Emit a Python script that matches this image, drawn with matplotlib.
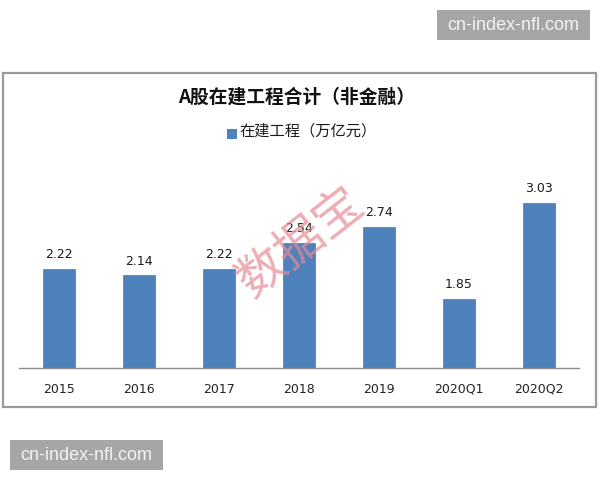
import matplotlib
matplotlib.use('Agg')
import matplotlib.pyplot as plt
from matplotlib.patches import Rectangle

plt.rcParams['font.family'] = ['Noto Sans CJK SC', 'DejaVu Sans']

W, H = 600, 480

categories = ['2015', '2016', '2017', '2018', '2019', '2020Q1', '2020Q2']
values = [2.22, 2.14, 2.22, 2.54, 2.74, 1.85, 3.03]
title = 'A股在建工程合计（非金融）'
legend_label = '在建工程（万亿元）'
site = 'cn-index-nfl.com'
stamp = '数据宝'

bar_color = '#4f81bd'


def fx(px):
    return px / W


def fy(py):
    return 1 - py / H


fig = plt.figure(figsize=(W / 100, H / 100), dpi=100, facecolor='white')

# chart frame, kept under the axes
fig.add_artist(Rectangle((fx(2.5), fy(407)), fx(593.5), 334 / H, transform=fig.transFigure,
                         fc='white', ec='#9a9a9a', lw=1.6, zorder=-1))

# axis runs from x=19 to x=579, baseline at y=367.5
ax = fig.add_axes([fx(19), fy(367.5), 560 / W, 167.5 / H])
ax.patch.set_alpha(0)
bars = ax.bar(categories, values, width=0.4, color=bar_color, edgecolor='#4a7ab3', lw=0.5, zorder=2)
ax.set_xlim(-0.5, 6.5)
ax.set_ylim(1, 1 + 167.5 / 81.0)
ax.set_yticks([])
for side in ['top', 'left', 'right']:
    ax.spines[side].set_visible(False)
ax.spines['bottom'].set_color('#8c8c8c')
ax.spines['bottom'].set_linewidth(1.0)
ax.tick_params(axis='x', length=0, pad=11, labelsize=9, labelcolor='#222222')
for lab in ax.get_xticklabels():
    lab.set_family(['DejaVu Sans'])

for b, v in zip(bars, values):
    ax.annotate(f'{v:.2f}', (b.get_x() + b.get_width() / 2, v), xytext=(0, 5.5),
                textcoords='offset points', ha='center', va='bottom', fontsize=9,
                color='#1a1a1a', family=['DejaVu Sans'], zorder=4)

fig.text(fx(297), fy(97), title, ha='center', va='center', fontsize=13.5, fontweight='bold', color='#111111')

# legend
fig.add_artist(Rectangle((fx(227), fy(139)), 10 / W, 10 / H, transform=fig.transFigure, fc=bar_color, ec='none'))
fig.text(fx(239), fy(131), legend_label, ha='left', va='center', fontsize=11, color='#1a1a1a')

# stamp across the middle
fig.text(fx(301), fy(243), stamp, ha='center', va='center', fontsize=35, rotation=38,
         color='#e58a94', alpha=0.7, zorder=6, rotation_mode='anchor')

# site tags
fig.add_artist(Rectangle((fx(437), fy(40)), 153 / W, 30 / H, transform=fig.transFigure, fc='#a6a6a6', ec='none'))
fig.text(fx(513.5), fy(25.5), site, ha='center', va='center', fontsize=13, color='#f2f2f2',
         family=['Liberation Sans', 'DejaVu Sans'])
fig.add_artist(Rectangle((fx(10), fy(470)), 153 / W, 30 / H, transform=fig.transFigure, fc='#a6a6a6', ec='none'))
fig.text(fx(86.5), fy(455.5), site, ha='center', va='center', fontsize=13, color='#f2f2f2',
         family=['Liberation Sans', 'DejaVu Sans'])

fig.savefig('out.png', dpi=100)
